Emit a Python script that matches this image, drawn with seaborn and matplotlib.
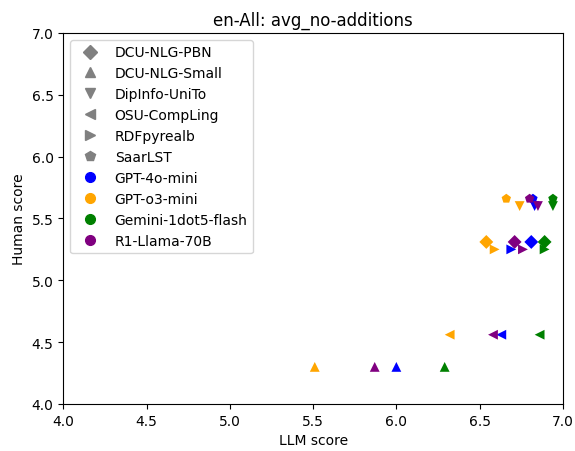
import matplotlib
matplotlib.use("Agg")
import matplotlib.pyplot as plt
from matplotlib.lines import Line2D
import seaborn as sns
import pandas as pd

# --- DATA ---
systems = ["DCU-NLG-PBN", "DCU-NLG-Small", "DipInfo-UniTo", "OSU-CompLing", "RDFpyrealb", "SaarLST"]
markers = ["D", "^", "v", "<", ">", "p"]
human_scores = [5.31, 4.30, 5.60, 4.56, 5.25, 5.66]

llms = ["GPT-4o-mini", "GPT-o3-mini", "Gemini-1dot5-flash", "R1-Llama-70B"]
llm_colors = ["blue", "orange", "green", "purple"]

# LLM score per system, one list per LLM (same order as systems)
gpt4o_mini = [6.81, 6.00, 6.83, 6.63, 6.69, 6.82]
gpt_o3_mini = [6.54, 5.51, 6.74, 6.32, 6.59, 6.66]
gemini_flash = [6.89, 6.29, 6.94, 6.86, 6.89, 6.94]
r1_llama = [6.71, 5.87, 6.85, 6.58, 6.76, 6.80]
llm_scores = [gpt4o_mini, gpt_o3_mini, gemini_flash, r1_llama]

rows = []
for llm, scores in zip(llms, llm_scores):
    for sys_name, h, s in zip(systems, human_scores, scores):
        rows.append({"llm": llm, "system": sys_name, "llm_score": s, "human_score": h})
df = pd.DataFrame(rows)

fig, ax = plt.subplots(figsize=(5.75, 4.52), dpi=100)
sns.scatterplot(data=df, x="llm_score", y="human_score", hue="llm", style="system",
                palette=dict(zip(llms, llm_colors)), markers=dict(zip(systems, markers)),
                hue_order=llms, style_order=systems, s=50, linewidth=0, ax=ax, legend=False)

ax.set_xlim(4.0, 7.0)
ax.set_ylim(4.0, 7.0)
ax.set_xlabel("LLM score")
ax.set_ylabel("Human score")
ax.set_title("en-All: avg_no-additions")

handles = [Line2D([], [], linestyle="none", marker=m, color="gray", markersize=7, label=n)
           for n, m in zip(systems, markers)]
handles += [Line2D([], [], linestyle="none", marker="o", color=c, markersize=7, label=n)
            for n, c in zip(llms, llm_colors)]
ax.legend(handles=handles, loc="upper left")

fig.subplots_adjust(left=0.11, right=0.979, top=0.925, bottom=0.104)
fig.savefig("out.png", dpi=100)
